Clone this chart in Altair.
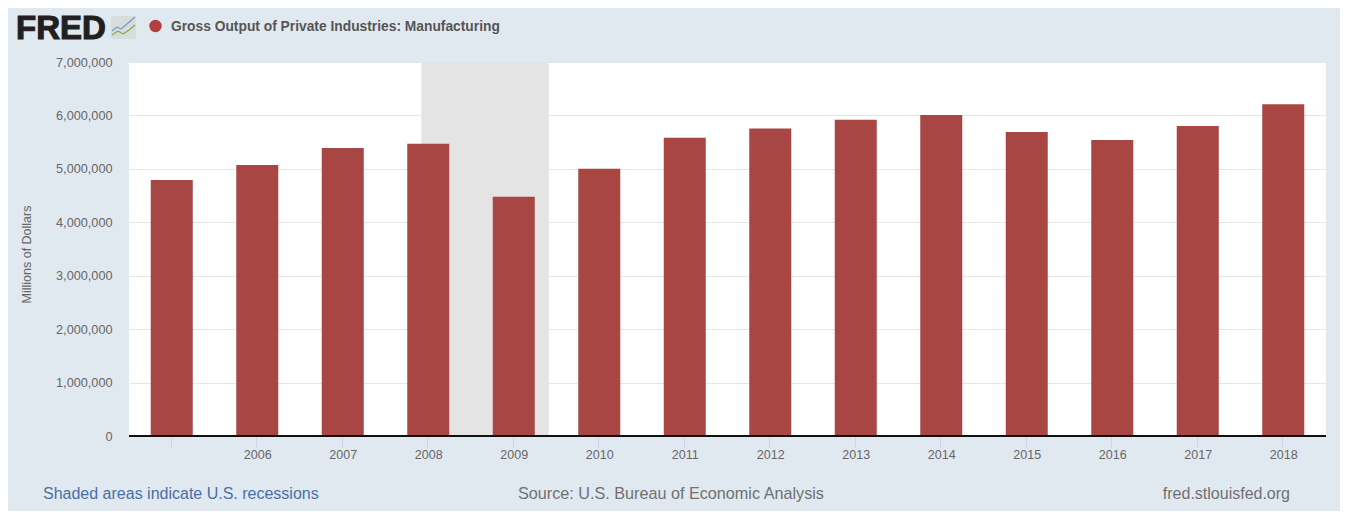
import altair as alt
import pandas as pd

years = [2005, 2006, 2007, 2008, 2009, 2010, 2011, 2012, 2013, 2014, 2015, 2016, 2017, 2018]
output = [4790000, 5070000, 5390000, 5470000, 4480000, 5000000, 5580000,
          5755000, 5920000, 6010000, 5690000, 5540000, 5800000, 6210000]
recession_start = [2007.92]
recession_end = [2009.41]
y_ticks = [0, 1000000, 2000000, 3000000, 4000000, 5000000, 6000000, 7000000]

FONT = "Liberation Sans"
W, H = 1197, 374

df = pd.DataFrame({"year": years, "output": output})
rec = pd.DataFrame({"start": recession_start, "end": recession_end})

xs = alt.Scale(domain=[2004.5, 2018.5], nice=False, zero=False, padding=0)
ys = alt.Scale(domain=[0, 7000000], nice=False, padding=0)

shade = alt.Chart(rec).mark_rect(color="#e4e4e4").encode(
    x=alt.X("start:Q", scale=xs,
            axis=alt.Axis(values=years, title=None, grid=False, domain=False,
                          tickColor="#ccd6eb", tickSize=11, tickWidth=1, tickOffset=-1,
                          labelExpr="datum.value == 2005 ? '' : format(datum.value, 'd')",
                          labelColor="#666666", labelFont=FONT, labelFontSize=12.5,
                          labelPadding=1, labelOffset=1)),
    x2="end:Q",
    y=alt.value(0),
    y2=alt.value(H),
)

bars = alt.Chart(df).mark_bar(color="#a84644", size=42).encode(
    x=alt.X("year:Q", scale=xs),
    y=alt.Y("output:Q", scale=ys,
            axis=alt.Axis(values=y_ticks, format=",d", title="Millions of Dollars",
                          grid=True, gridColor="#e6e6e6", gridWidth=1, domain=False,
                          ticks=False, labelColor="#666666", labelFont=FONT,
                          labelFontSize=12.7, labelPadding=17,
                          titleColor="#666666", titleFont=FONT, titleFontSize=12.5,
                          titleFontWeight="normal", titlePadding=22, titleY=192)),
)

baseline = alt.Chart(pd.DataFrame({"v": [0]})).mark_rule(color="#111111", strokeWidth=2).encode(
    y=alt.Y("v:Q", scale=ys), x=alt.value(0), x2=alt.value(W))


def label(text, x, y, size, color, weight="normal", align="left", stroke=None):
    kw = {"stroke": stroke, "strokeWidth": 1.1} if stroke else {}
    return alt.Chart(pd.DataFrame({"t": [text]})).mark_text(
        align=align, baseline="middle", font=FONT, fontSize=size,
        color=color, fontWeight=weight, **kw,
    ).encode(text="t:N", x=alt.value(x), y=alt.value(y))


# Header and footer, placed relative to the plot's origin at (129, 62)
fred = label("FRED", -113, -33, 33, "#231f20", "bold", stroke="#231f20")
dot = alt.Chart(pd.DataFrame({"t": ["series"]})).mark_point(
    filled=True, size=154, color="#b33f3f", opacity=1
).encode(x=alt.value(26.5), y=alt.value(-36))
title = label("Gross Output of Private Industries: Manufacturing", 42, -35, 13.8, "#555555", "bold")
footer_l = label("Shaded areas indicate U.S. recessions", -86, 432, 16, "#4a6fa5")
footer_c = label("Source: U.S. Bureau of Economic Analysis", 389, 432, 16.2, "#707070")
footer_r = label("fred.stlouisfed.org", 1161, 432, 16, "#707070", align="right")

# Small logo tile with its two trend lines, in plot-relative pixels
logo_box = alt.Chart(pd.DataFrame({"t": [0]})).mark_rect(color="#d9dcdd", cornerRadius=2).encode(
    x=alt.value(-18), x2=alt.value(7), y=alt.value(-46), y2=alt.value(-23))


def seg(x1, y1, x2, y2, color):
    return alt.Chart(pd.DataFrame({"t": [0]})).mark_rule(color=color, strokeWidth=1.3).encode(
        x=alt.value(x1), x2=alt.value(x2), y=alt.value(y1), y2=alt.value(y2))


logo_lines = [
    seg(-17, -31, -12, -35, "#6f9ec4"), seg(-12, -35, -8, -33, "#6f9ec4"),
    seg(-8, -33, -2, -38, "#6f9ec4"), seg(-2, -38, 6, -45, "#6f9ec4"),
    seg(-17, -27, -11, -31, "#7fae4f"), seg(-11, -31, -6, -28, "#7fae4f"),
    seg(-6, -28, 0, -32, "#7fae4f"), seg(0, -32, 6, -37, "#7fae4f"),
]

chart = alt.layer(
    shade, bars, baseline, fred, logo_box, *logo_lines, dot, title, footer_l, footer_c, footer_r
).resolve_scale(x="shared", y="shared").properties(
    width=W, height=H, background="#e1e9f0",
    padding={"left": 121, "top": 54, "right": 14, "bottom": 75},
    autosize=alt.AutoSizeParams(type="none"),
).configure_view(fill="#ffffff", stroke=None)

chart.save("out.html", embed_options={"renderer": "svg", "actions": False})
